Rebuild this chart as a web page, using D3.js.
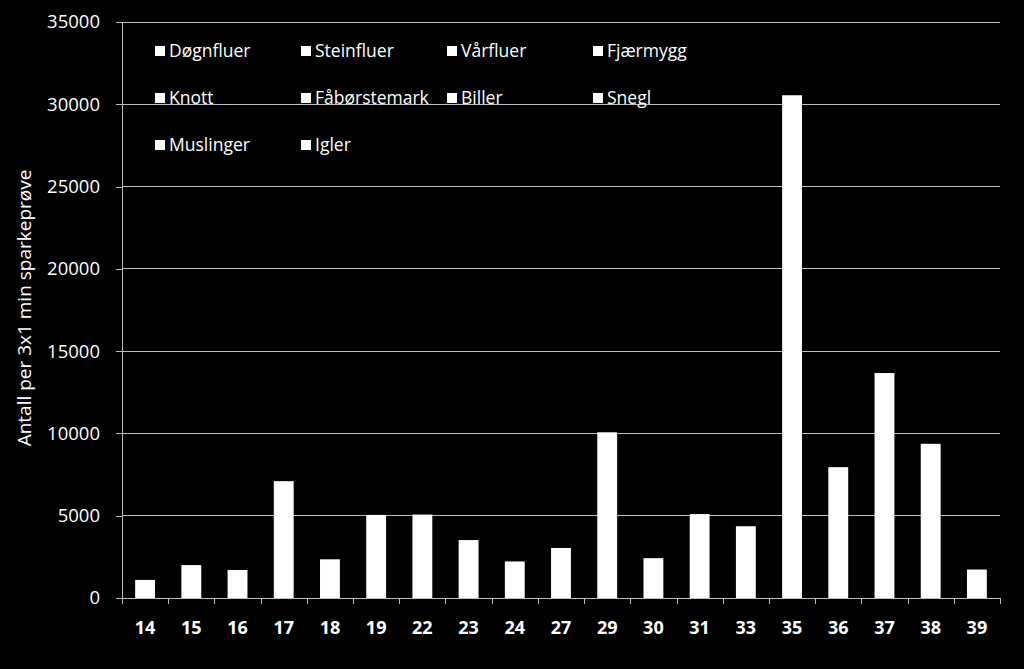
<!DOCTYPE html>
<html><head><meta charset="utf-8">
<script src="https://cdn.jsdelivr.net/npm/d3@7"></script>
<style>html,body{margin:0;padding:0;background:#000;}svg{display:block;}</style>
</head><body>
<svg id="c" width="1024" height="669"></svg>
<script>
const sites = ["14","15","16","17","18","19","22","23","24","27","29","30","31","33","35","36","37","38","39"];
const totals = [1100,2000,1700,7100,2350,5050,5070,3520,2220,3040,10070,2420,5100,4360,30550,7950,13670,9370,1730];
const seriesNames = ["Døgnfluer","Steinfluer","Vårfluer","Fjærmygg","Knott","Fåbørstemark","Biller","Snegl","Muslinger","Igler"];
const yTicks = [0,5000,10000,15000,20000,25000,30000,35000];
const yTitle = "Antall per 3x1 min sparkeprøve";

const svg = d3.select("#c");
const m = {l:122, r:1000, t:22, b:598};
const font = "'Open Sans', 'Noto Sans', sans-serif";
const x = d3.scaleBand().domain(sites).range([m.l, m.r]).paddingInner(0.57).paddingOuter(0.285);
const y = d3.scaleLinear().domain([0,35000]).range([m.b, m.t]);

// gridlines
svg.append("g").selectAll("line").data(yTicks.filter(d=>d>0)).join("line")
  .attr("x1", m.l).attr("x2", m.r).attr("y1", d=>y(d)).attr("y2", d=>y(d))
  .attr("stroke", "#bdbdbd").attr("stroke-width", 1).attr("shape-rendering","crispEdges");

// y axis
const ya = svg.append("g").attr("transform", `translate(${m.l},0)`)
  .call(d3.axisLeft(y).tickValues(yTicks).tickSize(6).tickPadding(16).tickFormat(d3.format("d")));
ya.select(".domain").attr("stroke","#bdbdbd").attr("shape-rendering","crispEdges");
ya.selectAll(".tick line").attr("stroke","#bdbdbd").attr("shape-rendering","crispEdges");
ya.selectAll("text").attr("fill","#fff").attr("font-family",font).attr("font-size",18.5);

// bars
svg.append("g").selectAll("rect").data(sites).join("rect")
  .attr("x", d=>x(d)).attr("width", x.bandwidth())
  .attr("y", (d,i)=>y(totals[i])).attr("height", (d,i)=>y(0)-y(totals[i]))
  .attr("fill","#fff");

// x axis
const step = x.step();
const xa = svg.append("g").attr("transform", `translate(0,${m.b})`);
xa.append("line").attr("x1",m.l).attr("x2",m.r).attr("y1",0).attr("y2",0)
  .attr("stroke","#bdbdbd").attr("shape-rendering","crispEdges");
xa.selectAll("line.tk").data(d3.range(sites.length+1)).join("line").attr("class","tk")
  .attr("x1", i=>Math.round(m.l + i*step)+0.5).attr("x2", i=>Math.round(m.l + i*step)+0.5)
  .attr("y1",0).attr("y2",6).attr("stroke","#bdbdbd");
xa.selectAll("text").data(sites).join("text")
  .attr("x", d=>x(d)+x.bandwidth()/2).attr("y", 36)
  .attr("text-anchor","middle").attr("fill","#fff").attr("font-family",font)
  .attr("font-weight","bold").attr("font-size",18).text(d=>d);

// y title
svg.append("text").attr("transform","translate(31,308) rotate(-90)")
  .attr("text-anchor","middle").attr("fill","#fff").attr("font-family",font)
  .attr("font-size",19).text(yTitle);

// legend
const colX = [155, 301, 447, 593];
const rowY = [51, 98, 145];
const lg = svg.append("g").selectAll("g").data(seriesNames).join("g")
  .attr("transform", (d,i)=>`translate(${colX[i%4]},${rowY[Math.floor(i/4)]})`);
lg.append("rect").attr("x",0).attr("y",-5).attr("width",10).attr("height",10).attr("fill","#fff");
lg.append("text").attr("x",14).attr("y",0).attr("dy","0.35em").attr("fill","#fff")
  .attr("font-family",font).attr("font-size",17.5).text(d=>d);
</script>
</body></html>
